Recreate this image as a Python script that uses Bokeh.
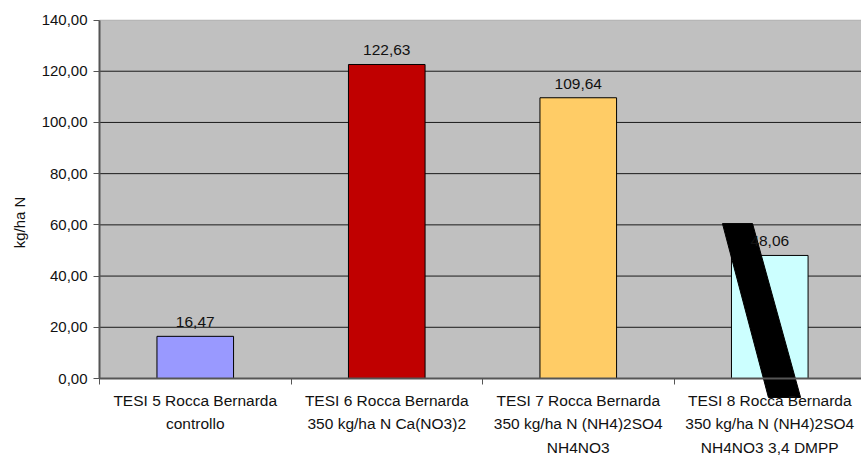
from bokeh.plotting import figure
from bokeh.models import (ColumnDataSource, FixedTicker, LabelSet, Label,
                          BoxAnnotation, Range1d)
from bokeh.core.properties import value
from bokeh.embed import file_html
from bokeh.resources import INLINE

# Nitrogen per treatment (kg/ha N)
categories = [
    "TESI 5 Rocca Bernarda\ncontrollo",
    "TESI 6 Rocca Bernarda\n350 kg/ha N Ca(NO3)2",
    "TESI 7 Rocca Bernarda\n350 kg/ha N (NH4)2SO4\nNH4NO3",
    "TESI 8 Rocca Bernarda\n350 kg/ha N (NH4)2SO4\nNH4NO3 3,4 DMPP",
]
values = [16.47, 122.63, 109.64, 48.06]
bar_colors = ["#9999FF", "#C00000", "#FFCC66", "#CCFFFF"]
y_ticks = [0, 20, 40, 60, 80, 100, 120, 140]

FONT = "Liberation Sans"
TEXT_COLOR = "#111111"
AXIS_COLOR = "#555555"

Y_MAX = 140
X_END = 3.979


def it_num(v):
    return f"{v:.2f}".replace(".", ",")


positions = [i + 0.5 for i in range(len(categories))]
source = ColumnDataSource(dict(
    x=positions,
    top=values,
    color=bar_colors,
    label=[it_num(v) for v in values],
))

# The frame fills the whole canvas; axes are pinned at x=0 / y=0 so that
# tick labels, the title and the strike mark all live inside it.
p = figure(width=861, height=457, output_backend="svg", toolbar_location=None,
           x_range=Range1d(-0.517, X_END), y_range=Range1d(-30.85, 147.62),
           min_border=0)
p.background_fill_color = "white"
p.border_fill_color = "white"
p.outline_line_color = None
p.xgrid.visible = False
p.ygrid.visible = False

# grey plotting area
p.add_layout(BoxAnnotation(left=0, bottom=0, top=Y_MAX, fill_color="#C0C0C0",
                           fill_alpha=1.0, line_color="#808080", line_width=1,
                           level="underlay"))

# horizontal grid lines
grid_src = ColumnDataSource(dict(y=y_ticks[:-1]))
p.segment(x0=0, x1=X_END + 0.1, y0="y", y1="y", source=grid_src,
          line_color="#1a1a1a", line_width=1)

p.vbar(x="x", top="top", width=0.4, bottom=0, source=source,
       fill_color="color", line_color="black", line_width=1)

# value labels above each bar
p.add_layout(LabelSet(x="x", y="top", text="label", source=source,
                      text_align="center", text_baseline="alphabetic",
                      y_offset=9, text_font=value(FONT),
                      text_font_size=value("15.5px"), text_color=TEXT_COLOR))

# category axis: labels at bar centres, small ticks at category boundaries
xa = p.xaxis[0]
xa.fixed_location = 0
xa.bounds = (0, X_END + 0.1)
xa.ticker = FixedTicker(ticks=positions,
                        minor_ticks=list(range(len(categories) + 1)))
xa.major_label_overrides = {pos: cat for pos, cat in zip(positions, categories)}
xa.major_tick_out = 0
xa.major_tick_in = 0
xa.minor_tick_out = 6
xa.minor_tick_in = 0
xa.minor_tick_line_color = AXIS_COLOR
xa.axis_line_color = AXIS_COLOR
xa.axis_line_width = 2
xa.major_label_standoff = 7
xa.major_label_text_font = FONT
xa.major_label_text_font_size = "15.5px"
xa.major_label_text_color = TEXT_COLOR
xa.major_label_text_line_height = 1.4

ya = p.yaxis[0]
ya.fixed_location = 0
ya.bounds = (0, Y_MAX)
ya.ticker = FixedTicker(ticks=y_ticks, minor_ticks=[])
ya.major_label_overrides = {t: it_num(t) for t in y_ticks}
ya.major_tick_out = 6
ya.major_tick_in = 0
ya.major_tick_line_color = AXIS_COLOR
ya.axis_line_color = AXIS_COLOR
ya.axis_line_width = 2
ya.major_label_standoff = 6
ya.major_label_text_font = FONT
ya.major_label_text_font_size = "15px"
ya.major_label_text_color = TEXT_COLOR

# y axis title
p.add_layout(Label(x=19, y=235, x_units="screen", y_units="screen",
                   text="kg/ha N", angle=1.5708, text_align="center",
                   text_baseline="middle", text_font=FONT,
                   text_font_size="15px", text_color=TEXT_COLOR))

# strike-through over the last treatment
p.patch(x=[3.253, 3.410, 3.661, 3.493], y=[60.5, 60.5, -7.4, -7.4],
        fill_color="black", line_color="black", line_width=1)

open("out.html", "w").write(file_html(p, INLINE))
